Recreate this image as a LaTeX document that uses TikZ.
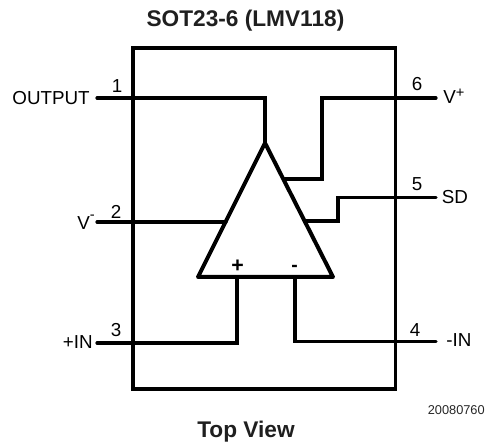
\documentclass[tikz,border=0pt]{standalone}
\usepackage{fontspec}
\setmainfont{Liberation Sans}
\newcommand{\fsz}[1]{\fontsize{#1}{#1}\selectfont}
\tikzset{
  x=0.75pt,y=-0.75pt,
  chipbox/.style={line width=2.7pt,line join=miter},
  opamp/.style={line width=3pt,line join=round},
  wire/.style={line width=2.4pt,line join=miter,line cap=round},
  lab/.style={inner sep=0pt,font=\fsz{14.1pt},text=black},
  ttl/.style={inner sep=0pt,font=\fsz{17pt}\bfseries,text=black!88},
}
\begin{document}
\begin{tikzpicture}
\useasboundingbox (0,0) rectangle (487,442);
% package outline
\coordinate (tl) at (133,48);
\coordinate (br) at (395.5,389);
\draw[chipbox] (tl) rectangle (br);
\draw[line width=3.2pt] (tl) -- (tl |- br);
% op amp
\coordinate (apex) at (265,143);
\coordinate (bl) at (198,277);
\coordinate (brr) at (333,277);
\draw[opamp] (apex) -- (bl) -- (brr) -- cycle;
% pin ends
\coordinate (p1) at (97,98);
\coordinate (p2) at (97,222);
\coordinate (p3) at (97,343);
\coordinate (p4) at (436,341.5);
\coordinate (p5) at (436,197.5);
\coordinate (p6) at (436,98);
\coordinate (in2) at (226,222);
\coordinate (in6) at (285,179);
\coordinate (in5) at (306,221);
\coordinate (in3) at (237,277);
\coordinate (in4) at (295,277);
% wires
\draw[wire] (p1) -| (apex);
\draw[wire] (p2) -- (in2);
\draw[wire] (p3) -| (in3);
\draw[wire] (p4) -| (in4);
\draw[wire] (p6) -- (322,98) |- (in6);
\draw[wire] (p5) -- (338,197.5) |- (in5);
% labels
\node[ttl,anchor=base] (title) at (245.5,27) {SOT23-6 (LMV118)};
\node[ttl,anchor=base] (view) at (246,438) {Top View};
\node[inner sep=0pt,anchor=base east,font=\fsz{9.6pt},text=black!85] (code) at (485,415) {20080760};
\node[lab,anchor=base east] (loutput) at (90,104.5) {OUTPUT};
\node[lab,anchor=base east] (lvm) at (95,230) {V\raisebox{0.55em}{\fsz{11pt}-}};
\node[lab,anchor=base east] (lin) at (93,349) {+IN};
\node[lab,anchor=base west] (lnin) at (446,347) {-IN};
\node[lab,anchor=base west] (lsd) at (441.5,203.5) {SD};
\node[lab,anchor=base west] (lvp) at (443,104) {V\raisebox{0.36em}{\fsz{11pt}+}};
\node[lab,anchor=base] (n1) at (117,93) {1};
\node[lab,anchor=base] (n2) at (116,219) {2};
\node[lab,anchor=base] (n3) at (116,337) {3};
\node[lab,anchor=base] (n4) at (415,337) {4};
\node[lab,anchor=base] (n5) at (417,191) {5};
\node[lab,anchor=base] (n6) at (417,91) {6};
\node[lab,anchor=base,font=\fsz{16pt}\bfseries] (plus) at (237.5,273) {+};
\node[lab,anchor=base,font=\fsz{14.5pt}\bfseries] (minus) at (294.5,272) {-};
\end{tikzpicture}
\end{document}
